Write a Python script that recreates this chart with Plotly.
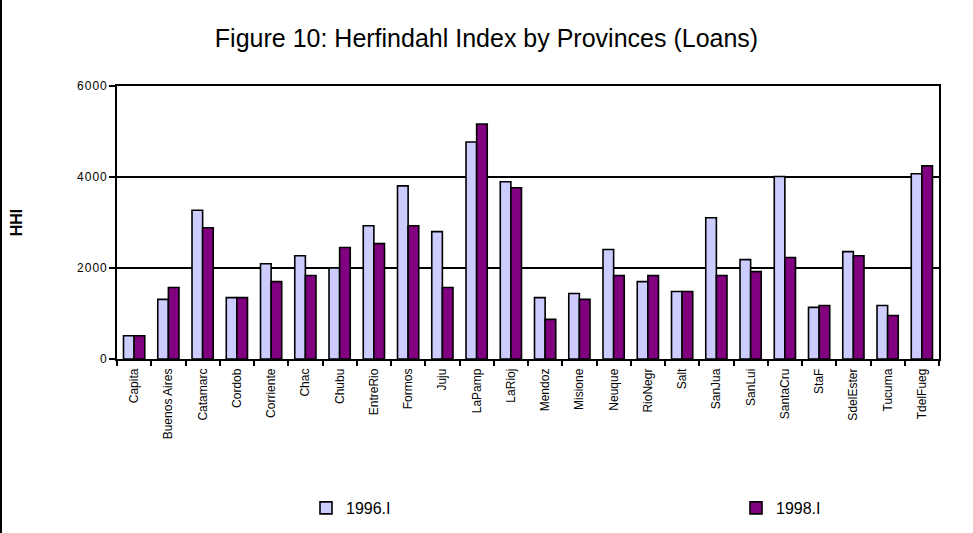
import plotly.graph_objects as go

categories = ["Capita", "Buenos Aires", "Catamarc", "Cordob", "Corriente", "Chac",
              "Chubu", "EntreRio", "Formos", "Juju", "LaPamp", "LaRioj", "Mendoz",
              "Misione", "Neuque", "RioNegr", "Salt", "SanJua", "SanLui", "SantaCru",
              "StaF", "SdelEster", "Tucuma", "TdelFueg"]

hhi_1996 = [510, 1310, 3270, 1350, 2095, 2270, 2000, 2930, 3805, 2800, 4770, 3895,
            1350, 1440, 2405, 1700, 1485, 3105, 2185, 4010, 1135, 2360, 1175, 4070]
hhi_1998 = [510, 1570, 2885, 1350, 1700, 1835, 2450, 2535, 2930, 1570, 5165, 3765,
            870, 1310, 1835, 1835, 1485, 1835, 1920, 2230, 1175, 2270, 955, 4245]

series_names = ["1996.I", "1998.I"]
y_tick_vals = [0, 2000, 4000, 6000]
y_tick_text = ["0", "2\u200a0\u200a0\u200a0", "4\u200a0\u200a0\u200a0", "6\u200a0\u200a0\u200a0"]

W, H = 973, 533
L, R, T, B = 117, 34, 86, 174
plot_w = W - L - R

FONT = "Liberation Sans, Arial, sans-serif"

fig = go.Figure()
fig.add_trace(go.Bar(x=categories, y=hhi_1996, name=series_names[0], legend="legend",
                     marker=dict(color="#CCCCFF", line=dict(color="black", width=1.6))))
fig.add_trace(go.Bar(x=categories, y=hhi_1998, name=series_names[1], legend="legend2",
                     marker=dict(color="#800080", line=dict(color="black", width=1.6))))

legend_common = dict(orientation="h", xref="container", xanchor="left",
                     yref="container", yanchor="middle", y=1 - 508 / H,
                     font=dict(size=16, family=FONT, color="black"),
                     bgcolor="rgba(0,0,0,0)")

fig.update_layout(
    width=W, height=H,
    margin=dict(l=L, r=R, t=T, b=B, autoexpand=False),
    paper_bgcolor="white", plot_bgcolor="white",
    font=dict(family=FONT, color="black"),
    barmode="group", bargap=0.38, bargroupgap=0,
    title=dict(text="Figure 10: Herfindahl Index by Provinces (Loans)",
               x=0.5, xanchor="center", y=1 - 38 / H, yanchor="middle",
               font=dict(size=25, family=FONT, color="black")),
    showlegend=True,
    legend=dict(x=306 / W, **legend_common),
    legend2=dict(x=736 / W, **legend_common),
    xaxis=dict(showline=True, linecolor="black", linewidth=1.6, mirror=True,
               ticks="outside", tickson="boundaries", ticklen=5, tickwidth=1.6,
               tickcolor="black", tickangle=-90, ticklabelstandoff=3,
               tickfont=dict(size=12, family=FONT, color="black"),
               showgrid=False, automargin=False),
    yaxis=dict(range=[0, 6000], tickvals=y_tick_vals, ticktext=y_tick_text,
               showline=True, linecolor="black", linewidth=1.6, mirror=True,
               ticks="outside", ticklen=6, tickwidth=1.6, tickcolor="black",
               tickfont=dict(size=12, family=FONT, color="black"),
               showgrid=True, gridcolor="black", gridwidth=1.6,
               zeroline=False, automargin=False,
               title=dict(text="<b>HHI</b>", standoff=50,
                          font=dict(size=16, family=FONT, color="black"))),
    shapes=[dict(type="line", xref="paper", yref="paper",
                 x0=(1 - L) / plot_w, x1=(1 - L) / plot_w,
                 y0=-B / (H - T - B), y1=(H - B) / (H - T - B),
                 line=dict(color="black", width=2))],
)

fig.write_html("out.html", config={"displayModeBar": False},
               post_script="document.body.style.margin='0';document.body.style.overflow='hidden';")
